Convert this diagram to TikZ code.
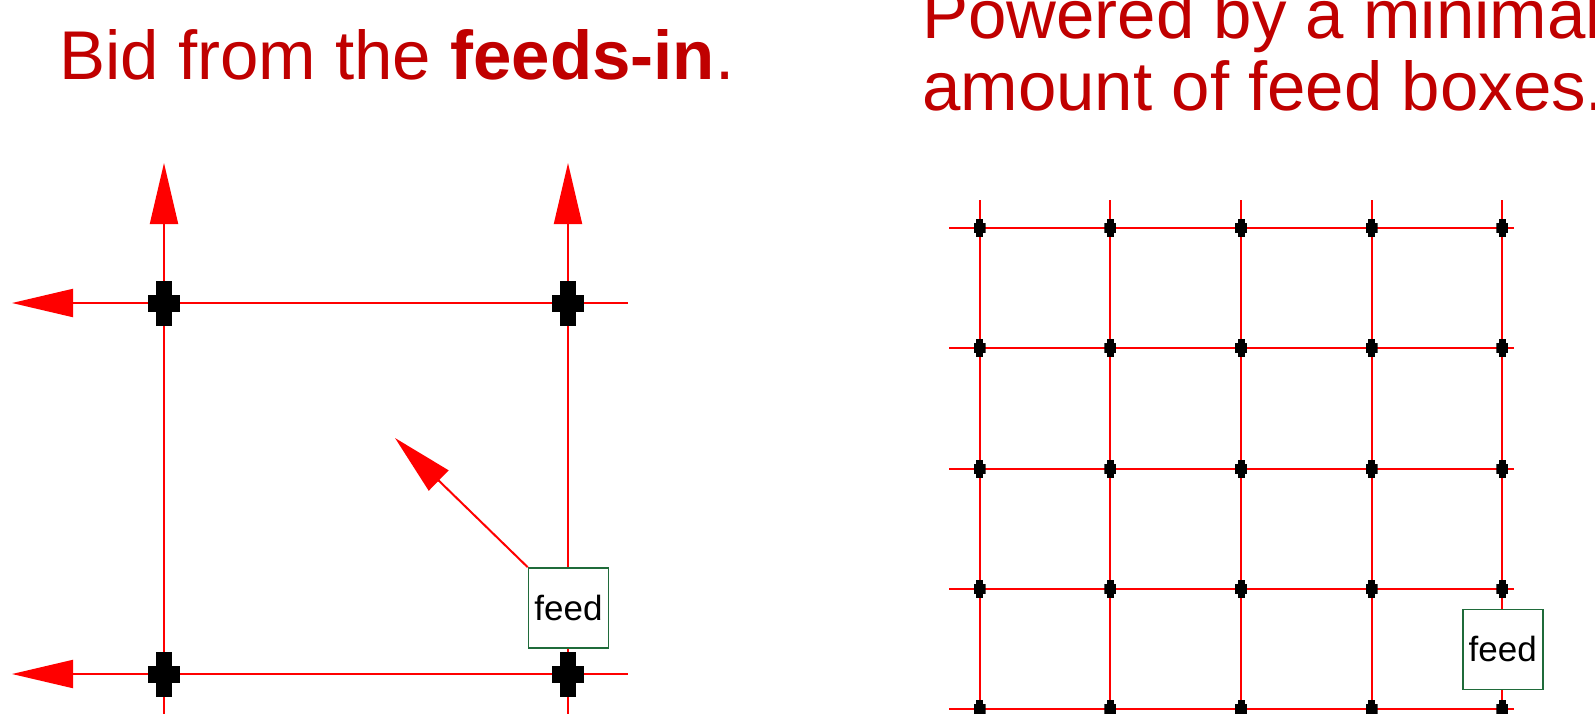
\documentclass[tikz,border=0pt]{standalone}
\usepackage{fontspec}
\setmainfont{Liberation Sans}
\usetikzlibrary{positioning,arrows.meta,backgrounds}
\definecolor{SlideRed}{RGB}{192,0,0}
\definecolor{FeedGreen}{RGB}{31,107,58}

\begin{document}
\begin{tikzpicture}[x=0.5pt, y=-0.5pt]
	\tikzset{
		wire/.style={draw=red, line width=1pt},
		bid/.style={wire, -{Triangle[length=30.5pt, width=14pt]}},
		jct/.style n args={4}{% bar width, bar height, arm width, arm height
			inner sep=0pt, outer sep=0pt,
			minimum width=#3, minimum height=#2,
			path picture={
				\fill[black] ([xshift=-#1/2]path picture bounding box.north) rectangle ([xshift=#1/2]path picture bounding box.south);
				\fill[black] ([yshift=#4/2]path picture bounding box.west) rectangle ([yshift=-#4/2]path picture bounding box.east);
			}
		},
		bigjct/.style={jct={8pt}{22.5pt}{16pt}{8.5pt}},
		smalljct/.style={jct={3.5pt}{9pt}{6pt}{5pt}},
		feedbox/.style={
			draw=FeedGreen, line width=0.8pt, fill=white,
			minimum width=40pt, minimum height=40pt, inner sep=0pt,
			font=\fontsize{17.5}{20}\selectfont
		},
		headline/.style={text=SlideRed, font=\fontsize{34.5}{35.6}\selectfont, inner sep=0pt, anchor=base west}
	}
	\useasboundingbox (0,0) rectangle (1595,713);
	\clip (0,0) rectangle (1595,713);

	% headings
	\node[headline] (bidtitle) at (59,79.3) {Bid from the \textbf{feeds-in}.};
	\node[headline, align=left] (powertitle) at (922,110) {Powered by a minimal\\amount of feed boxes.};

	% left: one cell, bidding outwards
	\node[bigjct] (lt) at (164,303) {};
	\node[bigjct] (rt) at (568,303) {};
	\node[bigjct] (lb) at (164,674) {};
	\node[bigjct] (rb) at (568,674) {};
	\node[feedbox] (feedA) at (568.5,608) {feed};

	\coordinate (lt-up) at (164,163);
	\coordinate (rt-up) at (568,163);
	\coordinate (lt-w) at (12,303);
	\coordinate (lb-w) at (12,674);
	\coordinate (rt-e) at (628,303);
	\coordinate (rb-e) at (628,674);
	\coordinate (lb-dn) at (164,725);
	\coordinate (rb-dn) at (568,725);
	\coordinate (feedA-tip) at (395,438);

	% right: grid fed from one box
	\foreach \c in {0,...,4}{
		\foreach \r in {0,...,4}{
			\node[smalljct] (g\r\c) at ({979.6+130.7*\c},{228+120.25*\r}) {};
		}
		\coordinate (gn\c) at ({979.6+130.7*\c},200);
		\coordinate (gs\c) at ({979.6+130.7*\c},725);
	}
	\foreach \r in {0,...,4}{
		\coordinate (gw\r) at (949,{228+120.25*\r});
		\coordinate (ge\r) at (1513.5,{228+120.25*\r});
	}
	\node[feedbox] (feedB) at (1502.7,649.3) {feed};

	\begin{scope}[on background layer]
		\draw[bid] (lt.center) -- (lt-up);
		\draw[bid] (rt.center) -- (rt-up);
		\draw[bid] (lt.center) -- (lt-w);
		\draw[bid] (lb.center) -- (lb-w);
		\draw[wire] (lt.center) -- (rt.center) -- (rt-e);
		\draw[wire] (lb.center) -- (rb.center) -- (rb-e);
		\draw[wire] (lt.center) -- (lb.center) -- (lb-dn);
		\draw[wire] (rt.center) -- (rb.center) -- (rb-dn);
		\draw[bid] (feedA.north west) -- (feedA-tip);
		\foreach \c in {0,...,4} \draw[wire] (gn\c) -- (gs\c);
		\foreach \r in {0,...,4} \draw[wire] (gw\r) -- (ge\r);
	\end{scope}
\end{tikzpicture}
\end{document}
